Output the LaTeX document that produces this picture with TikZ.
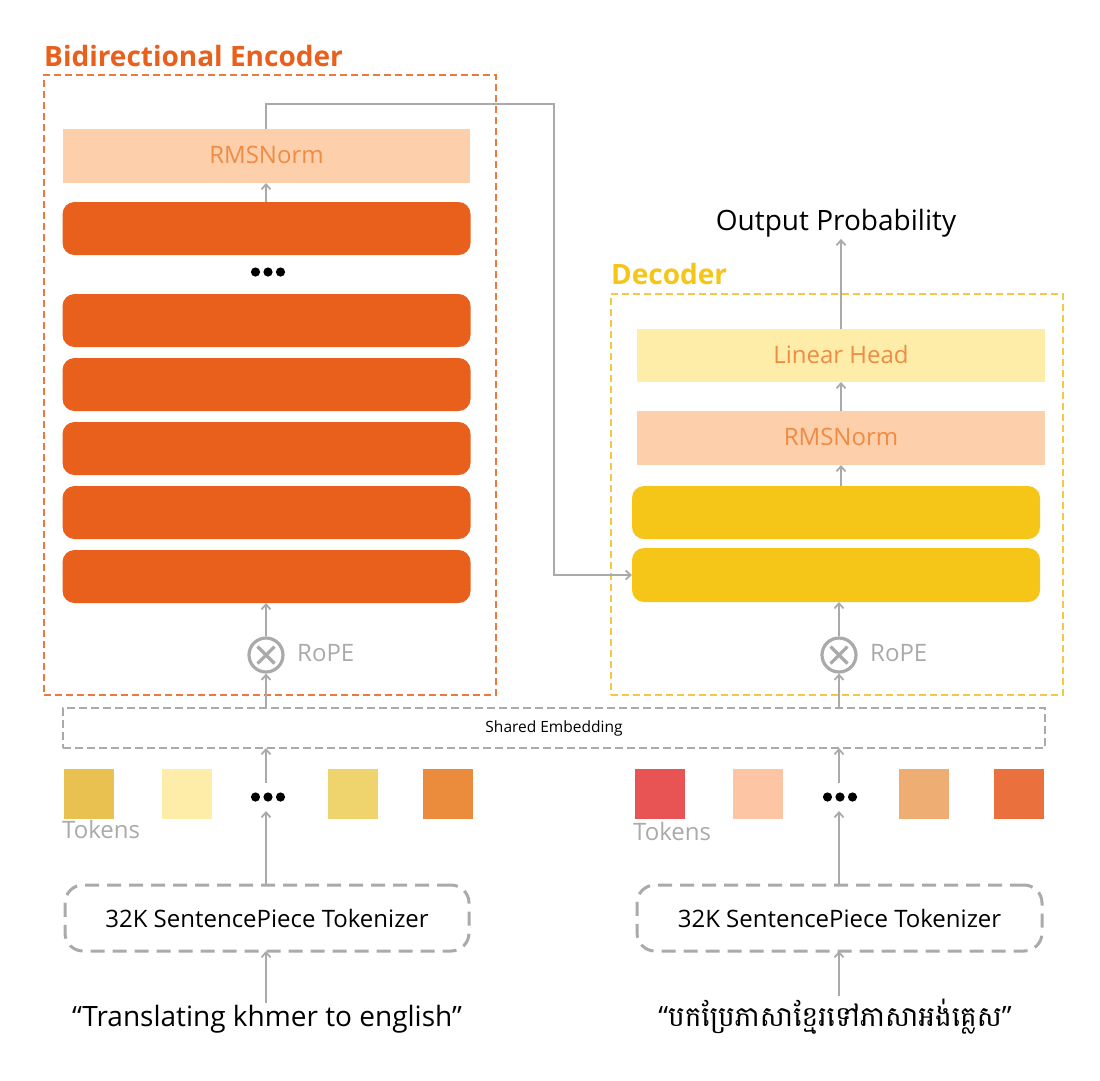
\documentclass[tikz,border=0pt]{standalone}
\usepackage{fontspec}
\setmainfont{Open Sans}
\newfontfamily\khmerfont[Script=Khmer]{Battambang}
\usetikzlibrary{arrows.meta}
\definecolor{encor}{HTML}{E8601C}
\definecolor{encdashc}{HTML}{EC7A3C}
\definecolor{rmsfill}{HTML}{FDCFAA}
\definecolor{rmstext}{HTML}{EE8C45}
\definecolor{lhfill}{HTML}{FEEDA8}
\definecolor{decyel}{HTML}{F5C518}
\definecolor{decdashc}{HTML}{F5C842}
\definecolor{lgray}{HTML}{AAAAAA}
\definecolor{tkA}{HTML}{E8C150}
\definecolor{tkB}{HTML}{FEEDA8}
\definecolor{tkC}{HTML}{EFD46E}
\definecolor{tkD}{HTML}{EA8C3C}
\definecolor{tkE}{HTML}{E85454}
\definecolor{tkF}{HTML}{FEC5A5}
\definecolor{tkG}{HTML}{EEAD72}
\definecolor{tkH}{HTML}{EA703D}
\begin{document}
\begin{tikzpicture}[x=1pt,y=-1pt,
  box/.style={inner sep=0pt, outer sep=0pt},
  encblock/.style={box, fill=encor, rounded corners=12pt, minimum width=408pt, minimum height=53pt},
  decblock/.style={box, fill=decyel, rounded corners=12pt, minimum width=408pt, minimum height=53pt},
  normbox/.style={box, fill=rmsfill, minimum width=407pt, minimum height=54pt, text=rmstext, font=\fontsize{24}{28}\selectfont},
  headbox/.style={box, fill=lhfill, minimum width=408pt, minimum height=53pt, text=rmstext, font=\fontsize{24}{28}\selectfont},
  encframe/.style={box, draw=encdashc, line width=1.5pt, dash pattern=on 7pt off 4pt},
  decframe/.style={box, draw=decdashc, line width=1.5pt, dash pattern=on 7pt off 4pt},
  sharedbox/.style={box, draw=lgray, line width=1.5pt, dash pattern=on 8pt off 4pt, minimum width=982pt, minimum height=40pt, font=\fontsize{15.5}{18}\selectfont},
  tokbox/.style={box, draw=lgray, line width=3pt, dash pattern=on 14pt off 8pt, rounded corners=18pt, minimum width=404pt, minimum height=66pt, font=\fontsize{24}{28}\selectfont},
  tokensq/.style={box, minimum size=50pt},
  ropec/.style={circle, draw=lgray, line width=3.2pt, minimum size=34pt, inner sep=0pt},
  ropelbl/.style={text=lgray, font=\fontsize{24}{28}\selectfont, inner sep=0pt, anchor=west},
  toklbl/.style={text=lgray, font=\fontsize{24}{28}\selectfont, inner sep=0pt, anchor=base west},
  title/.style={font=\bfseries\fontsize{28}{32}\selectfont, inner sep=0pt, anchor=base west},
  bigtext/.style={font=\fontsize{28}{32}\selectfont, inner sep=2pt, anchor=base},
  dotsnode/.style={box, minimum width=36pt, minimum height=28pt},
  arr/.style={draw=lgray, line width=1.8pt, -{Straight Barb[length=5pt,width=9pt]}},
  crossln/.style={draw=lgray, line width=3.2pt},
  raise/.style={text depth=3pt},
]
\useasboundingbox[fill=white] (0,0) rectangle (1100,1080);

% ---------- Encoder ----------
\node[encframe, minimum width=452pt, minimum height=620pt] (encbox) at (270,385) {};
\node[title, text=encor] (enctitle) at (44,66) {Bidirectional Encoder};
\node[normbox, raise] (encnorm) at (266.5,156) {RMSNorm};
\node[encblock] (eb1) at (266.5,228.5) {};
\node[dotsnode] (edots) at (268,272) {};
\node[encblock] (eb2) at (266.5,320.5) {};
\node[encblock] (eb3) at (266.5,384.5) {};
\node[encblock] (eb4) at (266.5,448.5) {};
\node[encblock] (eb5) at (266.5,512.5) {};
\node[encblock] (eb6) at (266.5,576.5) {};
\node[ropec] (erope) at (266,655) {};
\node[ropelbl] (eropelbl) at (297,653) {RoPE};

% ---------- Decoder ----------
\node[decframe, minimum width=452pt, minimum height=401pt] (decbox) at (837,494.5) {};
\node[title, text=decyel] (dectitle) at (611,284) {Decoder};
\node[bigtext] (outprob) at (836,230) {Output Probability};
\node[headbox, raise] (lhead) at (841,355.5) {Linear Head};
\node[normbox, raise, minimum width=408pt] (dnorm) at (841,438) {RMSNorm};
\node[decblock] (db1) at (836,512.5) {};
\node[decblock, minimum height=54pt] (db2) at (836,575) {};
\node[ropec] (drope) at (839,655) {};
\node[ropelbl] (dropelbl) at (870,653) {RoPE};

% ---------- Shared embedding ----------
\node[sharedbox] (shared) at (554,728) {Shared Embedding};

% ---------- Tokens ----------
\node[tokensq, fill=tkA] (lt1) at (89,794) {};
\node[tokensq, fill=tkB] (lt2) at (187,794) {};
\node[dotsnode] (ltokdots) at (268,797) {};
\node[tokensq, fill=tkC] (lt3) at (353,794) {};
\node[tokensq, fill=tkD] (lt4) at (448,794) {};
\node[toklbl] (ltoklbl) at (62,838) {Tokens};

\node[tokensq, fill=tkE] (rt1) at (659.5,794) {};
\node[tokensq, fill=tkF] (rt2) at (757.5,794) {};
\node[dotsnode] (rtokdots) at (840,797) {};
\node[tokensq, fill=tkG] (rt3) at (923.5,794) {};
\node[tokensq, fill=tkH] (rt4) at (1018.5,794) {};
\node[toklbl] (rtoklbl) at (633,840) {Tokens};

% ---------- Tokenizers and inputs ----------
\node[tokbox] (ltok) at (267,918) {32K SentencePiece Tokenizer};
\node[tokbox, minimum width=405pt] (rtok) at (839.5,918) {32K SentencePiece Tokenizer};
\node[bigtext] (linput) at (267,1026) {“Translating khmer to english”};
\node[bigtext] (rinput) at (835,1026) {“{\khmerfont បកប្រែភាសាខ្មែរទៅភាសាអង់គ្លេស}”};

% ---------- dots ----------
\foreach \d in {edots, ltokdots, rtokdots}{
  \fill[black] ([xshift=-12.5pt]\d.center) circle (4.6pt);
  \fill[black] (\d.center) circle (4.6pt);
  \fill[black] ([xshift=12.5pt]\d.center) circle (4.6pt);
}

% ---------- RoPE crosses ----------
\foreach \r in {erope, drope}{
  \draw[crossln] ([shift={(-8.5,-8.5)}]\r.center) -- ([shift={(8.5,8.5)}]\r.center);
  \draw[crossln] ([shift={(-8.5,8.5)}]\r.center) -- ([shift={(8.5,-8.5)}]\r.center);
}

% ---------- Encoder connectors ----------
\draw[arr] (linput.north -| erope) -- (ltok.south -| erope);
\draw[arr] (ltok.north -| erope) -- (ltokdots.south -| erope);
\draw[arr] (ltokdots.north -| erope) -- (shared.south -| erope);
\draw[arr] (shared.north -| erope) -- (erope.south);
\draw[arr] (erope.north) -- (eb6.south -| erope);
\draw[arr] (eb1.north -| erope) -- (encnorm.south -| erope);
\coordinate (bend) at (554,104);
\draw[arr] (encnorm.north -| erope) |- (bend) |- (db2.west);

% ---------- Decoder connectors ----------
\draw[arr] (rinput.north -| drope) -- (rtok.south -| drope);
\draw[arr] (rtok.north -| drope) -- (rtokdots.south -| drope);
\draw[arr] (rtokdots.north -| drope) -- (shared.south -| drope);
\draw[arr] (shared.north -| drope) -- (drope.south);
\draw[arr] (drope.north) -- (db2.south -| drope);
\draw[arr] (db1.north -| dnorm) -- (dnorm.south);
\draw[arr] (dnorm.north) -- (lhead.south -| dnorm);
\draw[arr] (lhead.north -| dnorm) -- (outprob.south -| dnorm);
\end{tikzpicture}
\end{document}
